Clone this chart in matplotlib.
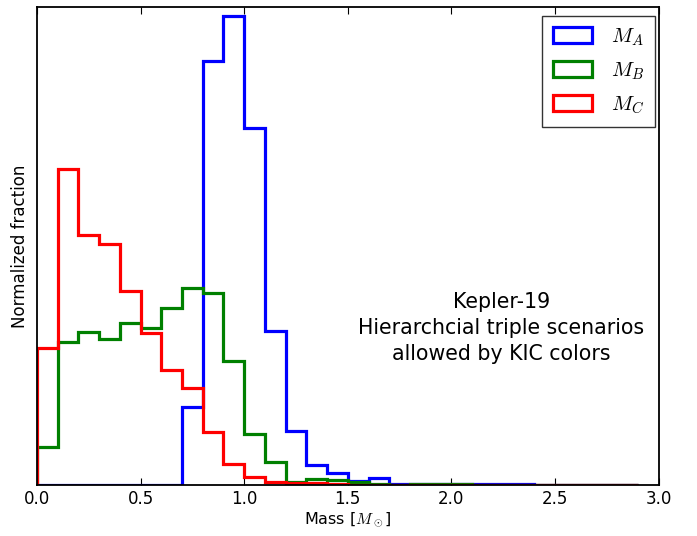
import numpy as np
import matplotlib.pyplot as plt

plt.rcParams['mathtext.fontset'] = 'cm'
plt.rcParams['font.family'] = 'DejaVu Sans'

# bin edges: 0.1 Msun wide, 0 -> 2.9
edges = np.round(np.arange(0, 2.91, 0.1), 2)

# normalized fractions (arbitrary units)
m_a = [0, 0, 0, 0, 0, 0, 0, 78, 424, 469, 357, 154, 54, 20, 12, 4, 7,
       1, 1, 1, 1, 1, 1.5, 1.5, 0, 0, 0, 0, 0]
m_b = [38, 143, 153, 146, 162, 157, 177, 197, 192, 124, 51, 23, 3, 6, 5, 3, 1,
       0.5, 1, 1, 1.5, 0.5, 0, 0, 0, 0, 0, 0, 0]
m_c = [137, 316, 250, 241, 194, 152, 115, 97, 53, 21, 8, 3, 2, 2, 1, 0.5, 0.5,
       0.5, 0.5, 0.5, 0.5, 0.5, 0.5, 0.5, 0.5, 0.5, 0.5, 0.5, 0.5]

labels = [r'$M_A$', r'$M_B$', r'$M_C$']
colors = ['#0000ff', '#008000', '#ff0000']

fig = plt.figure(figsize=(6.97, 5.36), dpi=100)
ax = fig.add_axes([0.053, 0.095, 0.892, 0.892])

centers = edges[:-1] + 0.05
for vals, lab, col in zip([m_a, m_b, m_c], labels, colors):
    ax.hist(centers, bins=edges, weights=vals, histtype='step',
            color=col, lw=2.3, label=lab)

ax.set_xlim(0, 3.0)
ax.set_ylim(0, 478)
ax.set_xticks(np.arange(0, 3.01, 0.5))
ax.set_yticks([])
ax.tick_params(axis='x', direction='in', top=True, length=5, labelsize=12)
for s in ax.spines.values():
    s.set_linewidth(1.3)

ax.set_xlabel(r'Mass [$M_\odot$]', fontsize=11.5, labelpad=2)
ax.set_ylabel('Normalized fraction', fontsize=12, labelpad=6)

ax.text(2.24, 157, 'Kepler-19\nHierarchcial triple scenarios\nallowed by KIC colors',
        ha='center', va='center', fontsize=14.8, linespacing=1.35)

leg = ax.legend(loc='upper right', bbox_to_anchor=(0.994, 0.981),
                fontsize=15, fancybox=False,
                handlelength=1.9, handleheight=0.8, borderpad=0.5,
                labelspacing=0.6, handletextpad=0.9, borderaxespad=0)
leg.get_frame().set_edgecolor('black')
leg.get_frame().set_linewidth(1.0)

fig.savefig('out.png', dpi=100)
